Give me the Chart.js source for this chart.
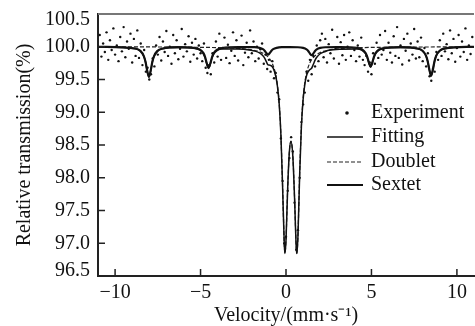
<!DOCTYPE html>
<html>
<head>
<meta charset="utf-8">
<script src="https://cdn.jsdelivr.net/npm/chart.js@4"></script>
<style>
html, body { margin: 0; padding: 0; background: #fff; overflow: hidden; }
</style>
</head>
<body>
<canvas id="myChart" width="478" height="326"></canvas>
<script>
const xTicks = [-10, -5, 0, 5, 10]
const yTicks = [96.5, 97.0, 97.5, 98.0, 98.5, 99.0, 99.5, 100.0, 100.5]
const etiquetas = ['Experiment', 'Fitting', 'Doublet', 'Sextet']

// canales medidos: -10.9 ... 10.9 mm/s, paso 0.1
const expInicio = -10.9
const expPaso = 0.1
const expTransmision = [
    100.18, 99.85, 100.05, 99.92, 100.22, 99.80, 100.10, 99.95, 100.28, 99.88,
    100.02, 99.78, 100.15, 99.93, 100.30, 99.84, 100.08, 99.97, 100.20, 99.76,
    100.12, 99.86, 100.25, 99.83, 100.05, 99.72, 99.95, 99.62, 99.68, 99.50,
    99.58, 99.82, 99.70, 100.02, 99.88, 100.15, 99.79, 100.08, 99.92, 100.24,
    99.86, 100.00, 99.74, 100.18, 99.90, 100.10, 99.81, 99.97, 100.27, 99.85, 100.04, 99.93, 100.16, 99.77, 100.06,
    99.88, 100.12, 99.82, 100.02, 99.90, 99.78, 100.05, 99.68, 99.60, 99.72, 99.58, 99.90, 99.76, 100.08, 99.85, 100.20, 99.80, 99.98,
    100.14, 99.83, 100.03, 99.75, 99.94, 100.22, 99.86, 100.10, 99.79, 99.99, 100.17, 99.72, 99.91, 100.06, 99.84, 100.25,
    99.90, 100.08, 99.78, 100.00, 99.82, 99.96, 100.05, 99.74, 99.88, 99.66, 99.80,
    99.62, 99.78, 99.52, 99.60, 99.30, 99.20, 98.60, 97.95, 97.00,
    97.10,
    97.80, 98.30, 98.62, 98.40, 97.62, 96.90, 97.20, 98.00, 98.85, 99.12,
    99.30, 99.62, 99.48, 99.80, 99.58, 99.86, 99.70, 100.02, 99.78, 100.10,
    100.20, 99.84, 100.12, 99.76, 100.04, 99.90, 100.26, 99.82, 99.98, 100.15, 99.74, 100.07, 99.87, 100.18, 99.80, 100.00,
    100.22, 99.86, 100.10, 99.95, 99.78, 100.02, 99.85, 100.14, 99.80, 99.72,
    99.86, 99.62, 99.76, 99.58, 99.90, 99.74, 100.06, 99.83, 100.18, 99.88,
    99.95, 100.24, 99.80, 100.06, 99.91, 99.76, 100.16, 99.86, 100.30, 99.83,
    100.02, 99.73, 100.12, 99.94, 100.20, 99.79, 100.05, 99.88, 100.27, 99.82,
    100.08, 99.84, 100.14, 99.78, 99.98, 99.70, 99.90, 99.55, 99.48, 99.66, 99.62, 99.92, 99.80, 100.10, 99.86, 100.20, 99.93,
    100.04, 99.81, 100.25, 99.90, 100.12, 99.77, 99.98, 100.18, 99.85, 100.08, 99.92, 100.28, 99.80, 100.02, 99.89, 100.15
]

const dobleteV = [-11, -8, -6, -4, -3, -2, -1.5, -1.2, -1.0, -0.8, -0.6, -0.5, -0.4, -0.3, -0.2, -0.1, -0.06, 0.0, 0.1, 0.2,
    0.29, 0.4, 0.5, 0.6, 0.64, 0.7, 0.8, 0.9, 1.0, 1.1, 1.2, 1.4, 1.6, 2.0, 2.5, 3, 4, 6, 8, 11]
const dobleteT = [99.998, 99.997, 99.994, 99.987, 99.978, 99.952, 99.919, 99.878, 99.830, 99.745, 99.572, 99.411, 99.142, 98.672, 97.876, 96.983, 96.849, 97.051, 97.860, 98.409,
    98.558, 98.333, 97.702, 96.936, 96.849, 97.122, 98.063, 98.789, 99.208, 99.450, 99.597, 99.756, 99.836, 99.911, 99.949, 99.967, 99.983, 99.993, 99.996, 99.998]

const sextetoV = [-11, -8.82, -8.52, -8.32, -8.22, -8.12, -8.02, -7.92, -7.82, -7.72, -7.52, -7.22, -6.3,
    -5.33, -5.03, -4.83, -4.73, -4.63, -4.53, -4.43, -4.33, -4.23, -4.03, -3.73, -2.8,
    -1.85, -1.55, -1.35, -1.25, -1.15, -1.05, -0.95, -0.85, -0.75, -0.55, -0.25, 0.225,
    0.7, 1.0, 1.2, 1.3, 1.4, 1.5, 1.6, 1.7, 1.8, 2.0, 2.3, 3.2,
    4.15, 4.45, 4.65, 4.75, 4.85, 4.95, 5.05, 5.15, 5.25, 5.45, 5.75, 6.7,
    7.69, 7.99, 8.19, 8.29, 8.39, 8.49, 8.59, 8.69, 8.79, 8.99, 9.29, 11]
const sextetoT = [100.0, 99.973, 99.937, 99.858, 99.770, 99.632, 99.540, 99.632, 99.770, 99.858, 99.937, 99.973, 99.995,
    99.981, 99.956, 99.902, 99.840, 99.744, 99.680, 99.744, 99.840, 99.902, 99.956, 99.981, 99.993,
    99.993, 99.983, 99.963, 99.940, 99.904, 99.880, 99.904, 99.940, 99.963, 99.983, 99.993, 99.994,
    99.992, 99.982, 99.960, 99.935, 99.896, 99.870, 99.896, 99.935, 99.960, 99.982, 99.992, 99.993,
    99.982, 99.959, 99.908, 99.850, 99.760, 99.700, 99.760, 99.850, 99.908, 99.959, 99.982, 99.994,
    99.974, 99.939, 99.865, 99.780, 99.648, 99.560, 99.648, 99.780, 99.865, 99.939, 99.974, 100.0]

const ajusteV = [-11, -8.82, -8.52, -8.32, -8.22, -8.12, -8.02, -7.92, -7.82, -7.72, -7.52, -7.22, -6.3,
    -5.33, -5.03, -4.83, -4.73, -4.63, -4.53, -4.43, -4.33, -4.23, -4.03, -3.73, -2.8, -2.0,
    -1.85, -1.55, -1.35, -1.25, -1.15, -1.05, -0.95, -0.85, -0.75, -0.6, -0.5, -0.4, -0.3, -0.2, -0.1, -0.06, 0.0,
    0.1, 0.2, 0.29, 0.4, 0.5, 0.6, 0.64, 0.7, 0.8, 0.9, 1.0, 1.1, 1.2, 1.3, 1.4, 1.5, 1.6, 1.7, 1.8, 2.0, 2.3, 2.5, 3.2,
    4.15, 4.45, 4.65, 4.75, 4.85, 4.95, 5.05, 5.15, 5.25, 5.45, 5.75, 6.7,
    7.69, 7.99, 8.19, 8.29, 8.39, 8.49, 8.59, 8.69, 8.79, 8.99, 9.29, 11]
const ajusteT = [99.998, 99.970, 99.934, 99.855, 99.767, 99.629, 99.537, 99.629, 99.767, 99.855, 99.933, 99.969, 99.988,
    99.973, 99.947, 99.892, 99.830, 99.733, 99.669, 99.733, 99.828, 99.889, 99.942, 99.965, 99.966, 99.944,
    99.936, 99.906, 99.863, 99.827, 99.772, 99.723, 99.719, 99.708, 99.673, 99.550, 99.396, 99.132, 98.665, 97.870, 96.977, 96.843, 97.045,
    97.854, 98.403, 98.552, 98.327, 97.696, 96.929, 96.842, 97.114, 98.053, 98.776, 99.190, 99.423, 99.557, 99.620, 99.652, 99.672, 99.732, 99.795, 99.840, 99.893, 99.927, 99.946, 99.963,
    99.966, 99.945, 99.895, 99.838, 99.748, 99.688, 99.748, 99.838, 99.897, 99.948, 99.972, 99.987,
    99.969, 99.935, 99.861, 99.776, 99.644, 99.556, 99.644, 99.776, 99.861, 99.935, 99.970, 99.998]

function puntos(vs, ts) {
    return vs.map((v, i) => ({ x: v, y: ts[i] }))
}

function experimento() {
    return expTransmision.map((t, i) => ({ x: Math.round((expInicio + i * expPaso) * 10) / 10, y: t }))
}

const fuente = { family: 'Liberation Serif', size: 20 }

// marcas hacia dentro, etiquetas del eje y, borde superior gris
const marcas = {
    id: 'marcas',
    afterDraw(chart) {
        const { ctx, chartArea, scales } = chart
        ctx.save()
        ctx.strokeStyle = '#222'
        ctx.lineWidth = 1.5
        ctx.beginPath()
        yTicks.forEach(v => {
            const y = scales.y.getPixelForValue(v)
            ctx.moveTo(chartArea.left, y)
            ctx.lineTo(chartArea.left + 7, y)
        })
        xTicks.forEach(v => {
            const x = scales.x.getPixelForValue(v)
            ctx.moveTo(x, chartArea.bottom)
            ctx.lineTo(x, chartArea.bottom - 7)
        })
        ctx.stroke()
        ctx.strokeStyle = '#777'
        ctx.lineWidth = 2
        ctx.beginPath()
        ctx.moveTo(chartArea.left, chartArea.top)
        ctx.lineTo(chartArea.right, chartArea.top)
        ctx.stroke()

        ctx.font = '20px "Liberation Serif"'
        ctx.fillStyle = '#111'
        ctx.textAlign = 'right'
        ctx.textBaseline = 'middle'
        yTicks.forEach((v, i) => {
            let y = scales.y.getPixelForValue(v)
            if (i === 0) y -= 5
            if (i === yTicks.length - 1) y += 5.5
            ctx.fillText(v.toFixed(1), chartArea.left - 8, y)
        })
        ctx.restore()
    }
}

// leyenda dentro del área del gráfico
const leyenda = {
    id: 'leyenda',
    afterDraw(chart) {
        const ctx = chart.ctx
        const filas = [113, 137, 162, 185]
        ctx.save()
        ctx.font = '20px "Liberation Serif"'
        ctx.fillStyle = '#111'
        ctx.textBaseline = 'middle'
        chart.data.datasets.forEach((ds, i) => {
            const y = filas[i]
            if (i === 0) {
                ctx.beginPath()
                ctx.arc(347, y, 1.8, 0, Math.PI * 2)
                ctx.fill()
            } else {
                ctx.strokeStyle = ds.borderColor
                ctx.lineWidth = ds.borderWidth
                ctx.setLineDash(ds.borderDash || [])
                ctx.beginPath()
                ctx.moveTo(327, y)
                ctx.lineTo(363, y)
                ctx.stroke()
                ctx.setLineDash([])
            }
            ctx.fillText(ds.label, 371, y)
        })
        ctx.restore()
    }
}

const ctx = document.getElementById('myChart')

new Chart(ctx, {
    type: 'scatter',
    data: {
        datasets: [
            {
                label: etiquetas[0],
                data: experimento(),
                pointRadius: 1.2,
                pointBorderWidth: 0,
                backgroundColor: '#111',
                borderColor: '#111'
            },
            {
                label: etiquetas[1],
                data: puntos(ajusteV, ajusteT),
                showLine: true,
                pointRadius: 0,
                borderColor: '#111',
                borderWidth: 1.5,
                cubicInterpolationMode: 'monotone'
            },
            {
                label: etiquetas[2],
                data: puntos(dobleteV, dobleteT),
                showLine: true,
                pointRadius: 0,
                borderColor: '#222',
                borderWidth: 1.2,
                borderDash: [4, 2],
                cubicInterpolationMode: 'monotone'
            },
            {
                label: etiquetas[3],
                data: puntos(sextetoV, sextetoT),
                showLine: true,
                pointRadius: 0,
                borderColor: '#111',
                borderWidth: 2.2,
                cubicInterpolationMode: 'monotone'
            }
        ]
    },
    options: {
        responsive: false,
        animation: false,
        devicePixelRatio: 1,
        layout: { padding: { top: 14, right: 2, left: 0, bottom: 0 } },
        plugins: {
            legend: { display: false },
            tooltip: { enabled: false }
        },
        scales: {
            x: {
                min: -11,
                max: 11,
                afterBuildTicks: axis => { axis.ticks = xTicks.map(v => ({ value: v })) },
                afterFit: axis => { axis.height = 50 },
                grid: { display: false, drawTicks: false },
                border: { display: true, color: '#222', width: 2 },
                ticks: {
                    color: '#111',
                    font: fuente,
                    padding: 5,
                    maxRotation: 0,
                    callback: v => String(v).replace('-', '\u2212')
                },
                title: {
                    display: true,
                    text: 'Velocity/(mm\u00b7s\u207b\u00b9)',
                    color: '#111',
                    font: fuente,
                    padding: { top: 0, bottom: -2 }
                }
            },
            y: {
                min: 96.5,
                max: 100.5,
                afterBuildTicks: axis => { axis.ticks = yTicks.map(v => ({ value: v })) },
                afterFit: axis => { axis.width = 98 },
                grid: { display: false, drawTicks: false },
                border: { display: true, color: '#222', width: 2 },
                ticks: { display: false },
                title: {
                    display: true,
                    text: 'Relative transmission(%)',
                    color: '#111',
                    font: fuente,
                    padding: { top: 13, bottom: 0 }
                }
            }
        }
    },
    plugins: [marcas, leyenda]
})
</script>
</body>
</html>
